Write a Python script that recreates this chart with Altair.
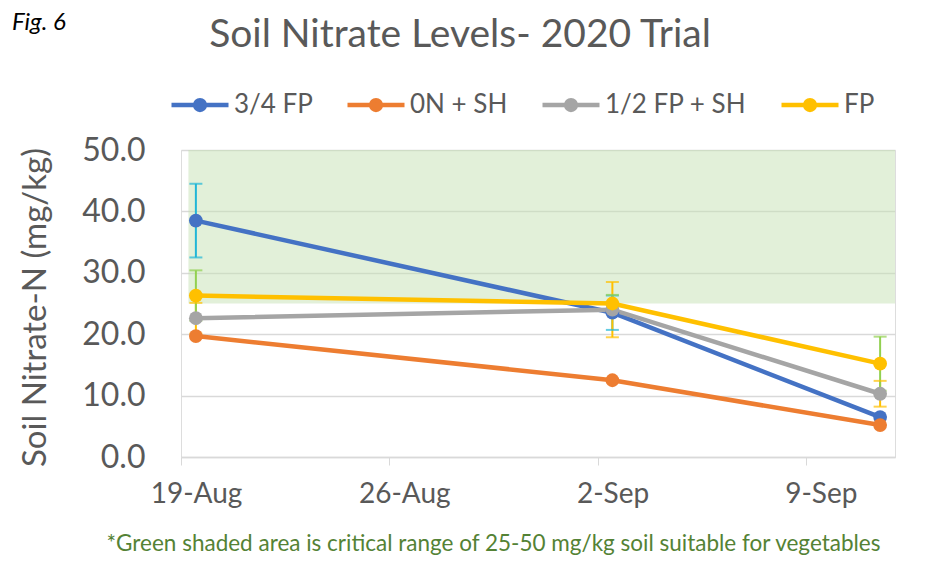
import altair as alt
import pandas as pd

# ---------------- data ----------------
series = ["3/4 FP", "0N + SH", "1/2 FP + SH", "FP"]
line_colors = ["#4472C4", "#ED7D31", "#A5A5A5", "#FFC000"]
err_colors = ["#21B6D7", "#ED7D31", "#FFC000", "#92D050"]
sample_dates = ["2020-08-19", "2020-09-02", "2020-09-11"]

v_34fp = [38.5, 23.5, 6.5]
v_0nsh = [19.7, 12.5, 5.2]
v_12fpsh = [22.6, 24.0, 10.3]
v_fp = [26.3, 25.0, 15.2]

e_34fp = [6.0, 2.8, None]
e_0nsh = [None, None, None]
e_12fpsh = [2.5, 4.5, 2.1]
e_fp = [4.1, 1.4, 4.4]

tick_days = [0, 7, 14, 21]
tick_labels = ["19-Aug", "26-Aug", "2-Sep", "9-Sep"]
axis_end_day = 24
critical_low, critical_high = 25, 50

title_text = "Soil Nitrate Levels- 2020 Trial"
y_title = "Soil Nitrate-N (mg/kg)"
footnote = "*Green shaded area is critical range of 25-50 mg/kg soil suitable for vegetables"
fig_label = "Fig. 6"

# ---------------- tables ----------------
start = pd.Timestamp("2020-08-19")
# Excel date axis centres each point in the middle of its day
day_pos = [(pd.Timestamp(d) - start).days + 0.5 for d in sample_dates]

rows, erows = [], []
for s, vals, errs in zip(series,
                         [v_34fp, v_0nsh, v_12fpsh, v_fp],
                         [e_34fp, e_0nsh, e_12fpsh, e_fp]):
    for d, v, e in zip(day_pos, vals, errs):
        rows.append({"series": s, "day": d, "value": v})
        if e is not None:
            erows.append({"series": s, "day": d, "lo": v - e, "hi": v + e})
df = pd.DataFrame(rows)
edf = pd.DataFrame(erows)
shade = pd.DataFrame({"x": [0.25], "x2": [axis_end_day], "y": [critical_low], "y2": [critical_high]})

label_expr = " : ".join(
    f"datum.value == {d} ? '{l}'" for d, l in zip(tick_days, tick_labels)
) + " : ''"

GREY = "#595959"
FONT = "Lato"

xscale = alt.Scale(domain=[0, axis_end_day], nice=False, zero=False)
yscale = alt.Scale(domain=[0, 50], nice=False)

x_axis = alt.Axis(values=tick_days, labelExpr=label_expr, labelFontSize=28,
                  labelColor=GREY, labelFont=FONT, labelPadding=15, tickSize=8,
                  labelFlush=False, labelOverlap=False, labelOffset=15,
                  tickColor="#D9D9D9", domainColor="#D9D9D9", domainWidth=1.5,
                  grid=False, title=footnote, titleFont=FONT, titleFontSize=22.5,
                  titleFontWeight="normal", titleColor="#548235",
                  titleX=312, titleY=86, titleAlign="center", titleBaseline="middle")
y_axis = alt.Axis(values=[0, 10, 20, 30, 40, 50], format=".1f", labelFontSize=32,
                  labelColor=GREY, labelFont=FONT, labelPadding=36, ticks=False,
                  domain=False, gridColor="#D9D9D9", gridWidth=1.5,
                  title=y_title, titleFont=FONT, titleFontSize=33,
                  titleFontWeight="normal", titleColor=GREY,
                  titleX=-146, titleY=157, titleBaseline="middle", titleAlign="center")

shade_layer = alt.Chart(shade).mark_rect(color="#C5E1B3", opacity=0.5).encode(
    x=alt.X("x:Q", scale=xscale, axis=x_axis),
    x2="x2:Q",
    y=alt.Y("y:Q", scale=yscale, axis=y_axis),
    y2="y2:Q",
)

err_color = alt.Color("series:N", scale=alt.Scale(domain=series, range=err_colors), legend=None)
err_rule = alt.Chart(edf).mark_rule(strokeWidth=2).encode(
    x=alt.X("day:Q", scale=xscale),
    y=alt.Y("lo:Q", scale=yscale),
    y2="hi:Q",
    color=err_color,
)
cap_lo = alt.Chart(edf).mark_tick(orient="horizontal", size=13, thickness=2).encode(
    x=alt.X("day:Q", scale=xscale), y=alt.Y("lo:Q", scale=yscale), color=err_color)
cap_hi = alt.Chart(edf).mark_tick(orient="horizontal", size=13, thickness=2).encode(
    x=alt.X("day:Q", scale=xscale), y=alt.Y("hi:Q", scale=yscale), color=err_color)
errs = alt.layer(err_rule, cap_lo, cap_hi)

r = 0.17
sym_path = f"M-1,0H1M{r},0A{r},{r},0,1,1,-{r},0A{r},{r},0,1,1,{r},0Z"
line_scale = alt.Scale(domain=series, range=line_colors)
line_color = alt.Color(
    "series:N", scale=line_scale, sort=series,
    legend=alt.Legend(
        title=None, orient="none", direction="horizontal", columns=4,
        legendX=-12, legendY=-76, padding=0,
        symbolType=sym_path, symbolSize=3249, symbolStrokeWidth=4.5,
        symbolOpacity=1,
        labelFont=FONT, labelFontSize=26, labelColor=GREY, labelOffset=3,
        columnPadding=25,
    ),
)
lines = alt.Chart(df).mark_line(strokeWidth=4.5).encode(
    x=alt.X("day:Q", scale=xscale), y=alt.Y("value:Q", scale=yscale), color=line_color)
points = alt.Chart(df).mark_circle(size=190, opacity=1).encode(
    x=alt.X("day:Q", scale=xscale), y=alt.Y("value:Q", scale=yscale),
    color=alt.Color("series:N", scale=line_scale, legend=None))
series_layer = alt.layer(lines, points)

fig = alt.Chart(pd.DataFrame({"t": [fig_label]})).mark_text(
    font=FONT, fontStyle="italic", fontSize=24, color="black", align="left", baseline="alphabetic"
).encode(text="t:N", x=alt.value(-169), y=alt.value(-120))

ttl = alt.Chart(pd.DataFrame({"t": [title_text]})).mark_text(
    font=FONT, fontSize=39, color=GREY, align="center", baseline="alphabetic"
).encode(text="t:N", x=alt.value(279), y=alt.value(-103))

chart = alt.layer(shade_layer, errs, series_layer, fig, ttl).resolve_scale(
    color="independent"
).properties(
    width=714, height=307,
    autosize=alt.AutoSizeParams(type="none"),
    padding={"left": 173, "top": 142, "right": 20, "bottom": 115},
).configure_view(stroke=None).configure(font=FONT)

chart.save("out.html", embed_options={"renderer": "svg", "actions": False})
